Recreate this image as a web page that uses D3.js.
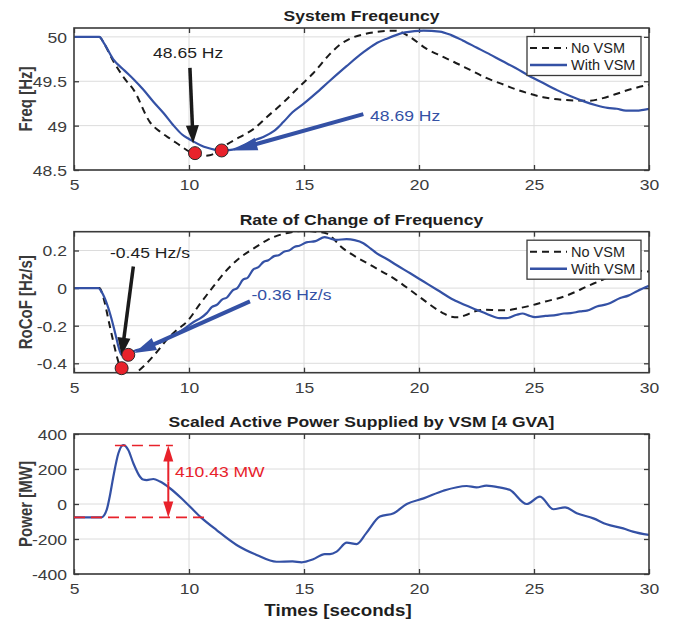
<!DOCTYPE html>
<html>
<head>
<meta charset="utf-8">
<script src="https://cdn.jsdelivr.net/npm/d3@7"></script>
<style>
  body { margin: 0; background: #fff; }
  svg { display: block; font-family: "Liberation Sans", Arial, Helvetica, sans-serif; }
</style>
</head>
<body>
<div id="chart"></div>
<script>
// datos (tiempo en s)
const timeTicks = [5, 10, 15, 20, 25, 30];
const freqTicks = [48.5, 49, 49.5, 50];
const rocofTicks = [-0.4, -0.2, 0, 0.2];
const powerTicks = [-400, -200, 0, 200, 400];
const legendNames = ["No VSM", "With VSM"];

const freqNoVsm = [[5,50],[6.1,50],[6.3,49.93],[6.7,49.73],[7.2,49.53],[7.6,49.40],[8.3,49.04],[8.8,48.92],[9.2,48.85],
  [9.7,48.76],[10.0,48.71],[10.3,48.68],[10.6,48.66],[10.9,48.665],[11.2,48.70],[11.6,48.78],[12.2,48.87],[12.8,48.96],
  [13.4,49.10],[14.1,49.26],[14.8,49.44],[15.4,49.59],[16.1,49.80],[16.6,49.92],[17.0,49.98],[17.6,50.03],[18.3,50.06],
  [19.0,50.07],[19.6,50.00],[20.3,49.87],[21.0,49.78],[21.5,49.72],[22.2,49.63],[22.9,49.54],[23.6,49.47],[24.2,49.41],
  [24.8,49.36],[25.4,49.32],[26.3,49.29],[27.4,49.28],[28.0,49.31],[28.5,49.35],[29.2,49.41],[30,49.46]];
const freqVsm = [[5,50],[6.1,50],[6.3,49.93],[6.7,49.75],[7.2,49.62],[7.6,49.52],[8.0,49.41],[8.45,49.27],[8.9,49.14],
  [9.3,49.01],[9.7,48.90],[10.0,48.85],[10.2,48.82],[10.5,48.78],[10.8,48.75],[11.1,48.73],[11.4,48.72],[11.9,48.73],
  [12.3,48.77],[12.8,48.83],[13.2,48.87],[13.7,48.94],[14.1,49.04],[14.5,49.15],[15.0,49.25],[15.5,49.36],[16.1,49.50],
  [16.85,49.67],[17.6,49.83],[18.1,49.92],[18.6,49.98],[19.4,50.05],[20.2,50.07],[20.9,50.06],[21.4,50.02],[21.9,49.96],
  [22.5,49.88],[23.1,49.80],[23.6,49.73],[24.2,49.65],[24.8,49.56],[25.4,49.48],[26.0,49.40],[26.6,49.33],[27.2,49.27],
  [27.7,49.23],[28.2,49.20],[28.6,49.19],[29.0,49.17],[29.45,49.17],[30,49.19]];

const rocofNoVsm = [[5,0],[6.1,0],[6.3,-0.06],[6.5,-0.17],[6.7,-0.28],[6.9,-0.38],[7.05,-0.44],[7.2,-0.46],[7.5,-0.46],
  [7.8,-0.44],[8.16,-0.40],[8.6,-0.34],[9.03,-0.275],[9.5,-0.22],[9.9,-0.18],[10.5,-0.08],[11.07,0.01],[11.6,0.09],
  [12.2,0.16],[12.8,0.21],[13.4,0.255],[14.0,0.285],[14.4,0.296],[15.0,0.305],[15.5,0.30],[16.0,0.29],[16.3,0.26],
  [16.6,0.221],[17.0,0.186],[18.0,0.115],[19.0,0.044],[20.0,-0.045],[21.0,-0.13],[21.4,-0.152],[21.7,-0.155],
  [22.0,-0.145],[22.4,-0.125],[22.9,-0.115],[23.4,-0.118],[23.8,-0.118],[24.3,-0.108],[24.8,-0.095],[25.5,-0.071],
  [26.3,-0.045],[26.8,-0.02],[27.3,0.009],[27.8,0.035],[28.3,0.062],[28.8,0.085],[29.2,0.097],[29.6,0.092],[30,0.088]];
const rocofVsm = [[5,0],[6.06,0],[6.2,-0.02],[6.42,-0.08],[6.6,-0.15],[6.71,-0.20],[6.85,-0.27],[6.93,-0.31],
  [7.07,-0.355],[7.2,-0.36],[7.4,-0.355],[7.58,-0.337],[8.0,-0.32],[8.4,-0.30],[8.74,-0.29],[9.2,-0.26],[9.75,-0.22],
  [10.2,-0.18],[10.5,-0.16],[10.77,-0.133],[11.0,-0.10],[11.2,-0.09],[11.45,-0.06],[11.65,-0.05],[11.9,-0.012],
  [12.1,0.0],[12.35,0.045],[12.55,0.055],[12.8,0.10],[13.0,0.11],[13.25,0.14],[13.45,0.148],[13.7,0.17],[13.9,0.175],
  [14.15,0.195],[14.35,0.20],[14.6,0.22],[14.8,0.225],[15.1,0.243],[15.5,0.25],[15.9,0.271],[16.1,0.265],[16.4,0.257],
  [16.85,0.26],[17.2,0.255],[17.58,0.239],[17.9,0.21],[18.15,0.186],[18.6,0.155],[19.0,0.124],[19.6,0.08],[20.2,0.035],
  [20.8,-0.01],[21.5,-0.062],[22.0,-0.09],[22.5,-0.115],[23.0,-0.14],[23.5,-0.16],[23.8,-0.16],[24.25,-0.142],
  [24.5,-0.135],[24.75,-0.145],[25.05,-0.154],[25.5,-0.148],[26.0,-0.142],[26.3,-0.135],[26.6,-0.133],[27.0,-0.124],
  [27.3,-0.12],[27.73,-0.098],[28.2,-0.085],[28.75,-0.053],[29.1,-0.04],[29.5,-0.015],[30,0.012]];

const powerVsm = [[5,-76],[6.2,-76],[6.42,-34],[6.55,40],[6.71,156],[6.93,290],[7.14,337],[7.36,309],[7.58,233],
  [7.87,156],[8.0,140],[8.16,137],[8.45,143],[8.74,128],[9.17,90],[9.75,23],[10.48,-72],[11.2,-149],[12.07,-234],
  [12.94,-291],[13.8,-330],[14.5,-328],[14.9,-333],[15.4,-316],[15.9,-286],[16.13,-286],[16.42,-272],[16.86,-221],
  [17.29,-229],[17.7,-168],[18.3,-72],[18.9,-53],[19.47,0],[20.2,32],[21.06,76],[22.07,103],[22.5,95],[22.93,105],
  [23.5,95],[23.96,80],[24.68,0],[25.26,42],[25.84,-30],[26.35,-19],[26.86,-53],[27.58,-82],[28.16,-116],[28.88,-139],
  [29.3,-158],[30,-177]];

// marcadores y flechas: [x, y]
const freqDots = [[10.26,48.69],[11.42,48.72]];
const rocofDots = [[7.07,-0.426],[7.36,-0.355]];
const powerPeak = 334, powerBase = -76.43;

const W = 675, H = 625;
const SX = 1.17; // la figura original está estirada en horizontal
const blue = "#3451a5", red = "#e8222b", axisCol = "#3a3a3a", gridCol = "#dcdcdc", txtCol = "#3c3c3c";
const font = "\"Liberation Sans\", Arial, Helvetica, sans-serif";

const x = d3.scaleLinear().domain([5, 30]).range([74, 649]);

const svg = d3.select("#chart").append("svg").attr("width", W).attr("height", H);

const panels = [
  { top: 28, bottom: 170, domain: [48.5, 50.1], ticks: freqTicks, fmt: d3.format(""), title: "System Freqeuncy", ylabel: "Freq [Hz]" },
  { top: 231.7, bottom: 372.7, domain: [-0.45, 0.3], ticks: rocofTicks, fmt: d => d === 0 ? "0" : d3.format(".1f")(d).replace("−", "-"), title: "Rate of Change of Frequency", ylabel: "RoCoF [Hz/s]" },
  { top: 434, bottom: 574, domain: [-400, 400], ticks: powerTicks, fmt: d => String(d), title: "Scaled Active Power Supplied by VSM [4 GVA]", ylabel: "Power [MW]" }
];

function drawArrow(g, x1, y1, x2, y2, color, width, headLen, headW) {
  const dx = x2 - x1, dy = y2 - y1, len = Math.hypot(dx, dy);
  const ux = dx / len, uy = dy / len;
  const bx = x2 - ux * headLen, by = y2 - uy * headLen;
  g.append("line").attr("x1", x1).attr("y1", y1).attr("x2", bx + ux * 2).attr("y2", by + uy * 2)
    .attr("stroke", color).attr("stroke-width", width);
  g.append("path")
    .attr("d", `M${x2},${y2}L${bx - uy * headW / 2},${by + ux * headW / 2}L${bx + uy * headW / 2},${by - ux * headW / 2}Z`)
    .attr("fill", color);
}

const line = d3.line().curve(d3.curveMonotoneX);

panels.forEach((p, i) => {
  const y = d3.scaleLinear().domain(p.domain).range([p.bottom, p.top]);
  p.y = y;
  const g = svg.append("g");

  // rejilla
  g.selectAll(".gx").data(timeTicks.slice(1, -1)).join("line")
    .attr("x1", d => x(d)).attr("x2", d => x(d)).attr("y1", p.top).attr("y2", p.bottom)
    .attr("stroke", gridCol).attr("stroke-width", 1);
  g.selectAll(".gy").data(p.ticks).join("line")
    .attr("x1", 74).attr("x2", 649).attr("y1", d => y(d)).attr("y2", d => y(d))
    .attr("stroke", gridCol).attr("stroke-width", 1);

  // ejes con marcas hacia dentro
  const ax = [
    g.append("g").attr("transform", `translate(0,${p.bottom})`).call(d3.axisBottom(x).tickValues(timeTicks).tickSize(-5).tickPadding(9.5)),
    g.append("g").attr("transform", `translate(0,${p.top})`).call(d3.axisTop(x).tickValues(timeTicks).tickSize(-5).tickFormat("")),
    g.append("g").attr("transform", `translate(74,0)`).call(d3.axisLeft(y).tickValues(p.ticks).tickSize(-5).tickPadding(6).tickFormat(p.fmt)),
    g.append("g").attr("transform", `translate(649,0)`).call(d3.axisRight(y).tickValues(p.ticks).tickSize(-5).tickFormat(""))
  ];
  ax.forEach(a => {
    a.select(".domain").remove();
    a.selectAll("line").attr("stroke", axisCol).attr("stroke-width", 1.3);
    a.selectAll("text").attr("font-size", 15).attr("fill", txtCol).attr("font-family", font)
      .attr("transform", `scale(${SX},1)`);
  });
  ax[2].selectAll("text").attr("dy", "0.36em");

  // clip
  svg.append("clipPath").attr("id", "clip" + i).append("rect")
    .attr("x", 74).attr("y", p.top).attr("width", 575).attr("height", p.bottom - p.top);
  p.lines = g.append("g").attr("clip-path", `url(#clip${i})`);
  p.g = g;

  // caja
  g.append("rect").attr("x", 74).attr("y", p.top).attr("width", 575).attr("height", p.bottom - p.top)
    .attr("fill", "none").attr("stroke", axisCol).attr("stroke-width", 1.6);

  // título
  g.append("text").attr("transform", `translate(361.5,${p.top - 7}) scale(${SX},1)`)
    .attr("text-anchor", "middle").attr("font-size", 15).attr("font-weight", "bold").attr("fill", "#1e1e1e")
    .text(p.title);
  // etiqueta y
  g.append("text").attr("transform", `translate(31.5,${(p.top + p.bottom) / 2}) rotate(-90) scale(1,${SX})`)
    .attr("text-anchor", "middle").attr("font-size", 15).attr("font-weight", "bold").attr("fill", "#3a3a3a")
    .text(p.ylabel);
});

function plotSeries(p, data, dashed) {
  p.lines.append("path").attr("d", line(data.map(d => [x(d[0]), p.y(d[1])])))
    .attr("fill", "none")
    .attr("stroke", dashed ? "#1a1a1a" : blue)
    .attr("stroke-width", dashed ? 2 : 2.2)
    .attr("stroke-dasharray", dashed ? "7,5" : null);
}

function legend(p) {
  const lg = p.g.append("g").attr("transform", `translate(527,${p.top + 8.5})`);
  lg.append("rect").attr("width", 114).attr("height", 39).attr("fill", "#fff")
    .attr("stroke", axisCol).attr("stroke-width", 1.3);
  legendNames.forEach((n, k) => {
    const cy = 11.5 + k * 17;
    lg.append("line").attr("x1", 3).attr("x2", 40).attr("y1", cy).attr("y2", cy)
      .attr("stroke", k === 0 ? "#1a1a1a" : blue).attr("stroke-width", k === 0 ? 2 : 2.6)
      .attr("stroke-dasharray", k === 0 ? "7,5" : null);
    lg.append("text").attr("x", 44).attr("y", cy + 5.3).attr("font-size", 14.5).attr("fill", "#1e1e1e").text(n);
  });
}

function dots(p, pts) {
  p.g.selectAll(null).data(pts).join("circle")
    .attr("cx", d => x(d[0])).attr("cy", d => p.y(d[1])).attr("r", 6.5)
    .attr("fill", red).attr("stroke", "#2a2a2a").attr("stroke-width", 1);
}

function label(g, px, py, txt, color) {
  g.append("text").attr("transform", `translate(${px},${py}) scale(${SX},1)`)
    .attr("font-size", 15).attr("fill", color).text(txt);
}

// panel 1
const p1 = panels[0];
plotSeries(p1, freqNoVsm, true);
plotSeries(p1, freqVsm, false);
legend(p1);
drawArrow(p1.g, x(10.04), p1.y(49.65), x(10.18), p1.y(48.80), "#1a1a1a", 3.5, 18, 13);
drawArrow(p1.g, x(17.58), p1.y(49.13), x(11.93), p1.y(48.72), blue, 4, 24, 13);
dots(p1, freqDots);
label(p1.g, 153, 57.5, "48.65 Hz", "#1e1e1e");
label(p1.g, 370, 121, "48.69 Hz", blue);

// panel 2
const p2 = panels[1];
plotSeries(p2, rocofNoVsm, true);
plotSeries(p2, rocofVsm, false);
legend(p2);
drawArrow(p2.g, x(7.58), p2.y(0.115), x(7.07), p2.y(-0.36), "#1a1a1a", 3.5, 18, 13);
drawArrow(p2.g, x(12.65), p2.y(-0.071), x(7.62), p2.y(-0.345), blue, 4, 22, 13);
dots(p2, rocofDots);
label(p2.g, 110, 258, "-0.45 Hz/s", "#1e1e1e");
label(p2.g, 251.5, 300, "-0.36 Hz/s", blue);

// panel 3
const p3 = panels[2];
plotSeries(p3, powerVsm, false);
p3.g.append("line").attr("x1", x(6.78)).attr("x2", x(9.3)).attr("y1", p3.y(powerPeak)).attr("y2", p3.y(powerPeak))
  .attr("stroke", red).attr("stroke-width", 1.6).attr("stroke-dasharray", "11,6");
p3.g.append("line").attr("x1", x(5)).attr("x2", x(10.9)).attr("y1", p3.y(powerBase)).attr("y2", p3.y(powerBase))
  .attr("stroke", red).attr("stroke-width", 1.6).attr("stroke-dasharray", "11,6");
const midY = (p3.y(powerPeak) + p3.y(powerBase)) / 2;
drawArrow(p3.g, x(9.1), midY, x(9.1), p3.y(powerPeak), red, 2, 16, 10);
drawArrow(p3.g, x(9.1), midY, x(9.1), p3.y(powerBase), red, 2, 16, 10);
label(p3.g, 175, 477, "410.43 MW", red);

// eje x
svg.append("text").attr("transform", `translate(338,616) scale(${SX},1)`)
  .attr("text-anchor", "middle").attr("font-size", 16).attr("font-weight", "bold").attr("fill", "#1e1e1e")
  .text("Times [seconds]");
</script>
</body>
</html>
